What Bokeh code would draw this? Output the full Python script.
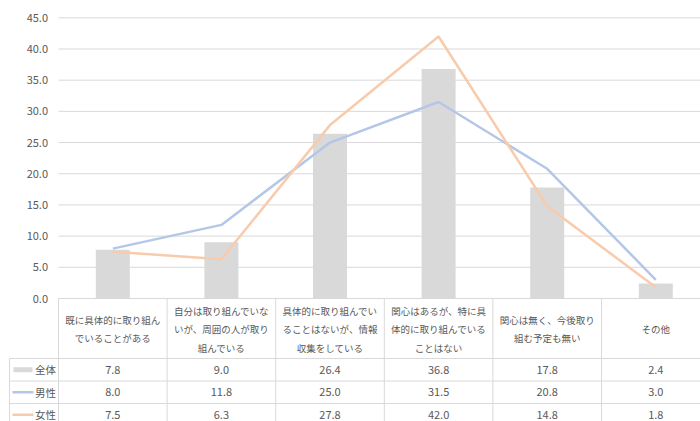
from bokeh.plotting import figure
from bokeh.models import Range1d
from bokeh.core.properties import value
from bokeh.embed import file_html
from bokeh.resources import INLINE

# ---- data ----
categories = [
    "既に具体的に取り組ん\nでいることがある",
    "自分は取り組んでいな\nいが、周囲の人が取り\n組んでいる",
    "具体的に取り組んでい\nることはないが、情報\n収集をしている",
    "関心はあるが、特に具\n体的に取り組んでいる\nことはない",
    "関心は無く、今後取り\n組む予定も無い",
    "その他",
]
series_names = ["全体", "男性", "女性"]
total = [7.8, 9.0, 26.4, 36.8, 17.8, 2.4]
male = [8.0, 11.8, 25.0, 31.5, 20.8, 3.0]
female = [7.5, 6.3, 27.8, 42.0, 14.8, 1.8]
y_ticks = [0, 5, 10, 15, 20, 25, 30, 35, 40, 45]
y_tick_labels = ["0.0", "5.0", "10.0", "15.0", "20.0", "25.0", "30.0", "35.0", "40.0", "45.0"]

# ---- styles ----
C_BAR = "#d9d9d9"
C_MALE = "#b4c7e7"
C_FEMALE = "#f8cbad"
C_GRID = "#d9d9d9"
C_TEXT = "#595959"
FONT = value("Noto Sans CJK JP")

# ---- layout (screen pixel geometry of the picture) ----
W, H = 700, 421
PAGE_TOP, PAGE_BOTTOM = 0, 421
PAGE_LEFT, PAGE_RIGHT = 0, 700
PLOT_LEFT = 58.0
COL = 108.6
ZERO_Y = 298.0
PPU = 280.7 / 45.0


def xu(px):
    return (px - PLOT_LEFT) / COL


x_range = Range1d(xu(PAGE_LEFT), xu(PAGE_RIGHT))
y_range = Range1d(-(PAGE_BOTTOM - ZERO_Y) / PPU, (ZERO_Y - PAGE_TOP) / PPU)

p = figure(width=W, height=H, x_range=x_range, y_range=y_range,
           output_backend="svg", toolbar_location=None,
           x_axis_location=None, y_axis_location=None,
           min_border=0, outline_line_color=None,
           background_fill_color="white", border_fill_color="white")
p.xgrid.visible = False
p.ygrid.visible = False
p.extra_y_ranges = {"tbl": Range1d(PAGE_BOTTOM, PAGE_TOP)}

n = len(categories)
xs = [i + 0.5 for i in range(n)]

# gridlines
p.segment(x0=[0] * len(y_ticks), x1=[n] * len(y_ticks), y0=y_ticks, y1=y_ticks,
          line_color=C_GRID, line_width=1)
# y tick labels
p.text(x=[xu(47.5)] * len(y_ticks), y=y_ticks, text=y_tick_labels,
       text_font=FONT, text_font_size="11px", text_color=C_TEXT,
       text_align="right", text_baseline="middle")

# bars and lines
p.vbar(x=xs, top=total, width=0.313, bottom=0, fill_color=C_BAR, line_color=None)
p.line(xs, male, line_color=C_MALE, line_width=2.5)
p.line(xs, female, line_color=C_FEMALE, line_width=2.5)

# ---- table ----
T_TOP = 298.0
HDR_BOT = 358.0
ROW_H = 22.5
row_tops = [HDR_BOT + k * ROW_H for k in range(len(series_names))]
LEG_LEFT = xu(9)

# horizontal lines
p.segment(x0=[0], x1=[n], y0=[T_TOP], y1=[T_TOP], line_color=C_GRID, line_width=1, y_range_name="tbl")
p.segment(x0=[LEG_LEFT] * len(row_tops), x1=[n] * len(row_tops), y0=row_tops, y1=row_tops,
          line_color=C_GRID, line_width=1, y_range_name="tbl")
# vertical lines
p.segment(x0=list(range(n + 1)), x1=list(range(n + 1)), y0=[T_TOP] * (n + 1), y1=[PAGE_BOTTOM + 5] * (n + 1),
          line_color=C_GRID, line_width=1, y_range_name="tbl")
p.segment(x0=[LEG_LEFT], x1=[LEG_LEFT], y0=[HDR_BOT], y1=[PAGE_BOTTOM + 5],
          line_color=C_GRID, line_width=1, y_range_name="tbl")

# header texts
hx, hy, ht = [], [], []
LINE_SP = 18.5
hc = (T_TOP + HDR_BOT) / 2 + 0.5
for i, cat in enumerate(categories):
    lines = cat.split("\n")
    m = len(lines)
    for j, ln in enumerate(lines):
        hx.append(xs[i])
        hy.append(hc + (j - (m - 1) / 2) * LINE_SP)
        ht.append(ln)
p.text(x=hx, y=hy, text=ht, text_font=FONT, text_font_size="9.5px", text_color=C_TEXT,
       text_align="center", text_baseline="middle", y_range_name="tbl")

# values
series_vals = [total, male, female]
vx, vy, vt = [], [], []
for k, vals in enumerate(series_vals):
    yc = row_tops[k] + ROW_H / 2
    for i, v in enumerate(vals):
        vx.append(xs[i])
        vy.append(yc)
        vt.append(f"{v:.1f}")
p.text(x=vx, y=vy, text=vt, text_font=FONT, text_font_size="11px", text_color=C_TEXT,
       text_align="center", text_baseline="middle", y_range_name="tbl")

# legend cells
row_c = [t + ROW_H / 2 for t in row_tops]
p.quad(left=[xu(13)], right=[xu(32)], top=[row_c[0] - 2.5], bottom=[row_c[0] + 2.5],
       fill_color=C_BAR, line_color=None, y_range_name="tbl")
p.segment(x0=[xu(12)], x1=[xu(33)], y0=[row_c[1]], y1=[row_c[1]], line_color=C_MALE,
          line_width=2.5, y_range_name="tbl")
p.segment(x0=[xu(12)], x1=[xu(33)], y0=[row_c[2]], y1=[row_c[2]], line_color=C_FEMALE,
          line_width=2.5, y_range_name="tbl")
p.text(x=[xu(55.5)] * 3, y=row_c, text=series_names, text_font=FONT, text_font_size="10.5px",
       text_color=C_TEXT, text_align="right", text_baseline="middle", y_range_name="tbl")

open("out.html", "w").write(file_html(p, INLINE))
